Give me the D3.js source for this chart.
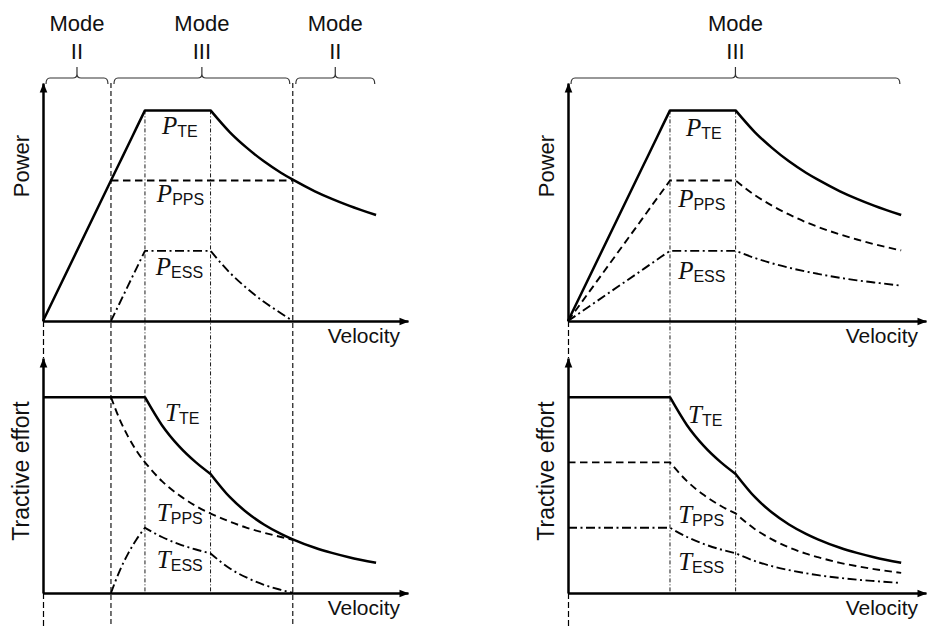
<!DOCTYPE html>
<html lang="en">
<head>
<meta charset="UTF-8">
<title>Power and tractive effort vs velocity</title>
<script src="https://d3js.org/d3.v7.min.js"></script>
<style>
  body { margin: 0; background: #fff; }
  svg { display: block; }
  .sans { font-family: "Liberation Sans", Arial, sans-serif; fill: #111; }
  .it { font-family: "Liberation Serif", "Times New Roman", serif; font-style: italic; }
</style>
</head>
<body>
<div id="chart"></div>
<script>
const W = 928, H = 626;

// velocity samples (same grid for every curve), corners where the curves kink
const velocity = [0, 2, 2.25, 2.5, 2.75, 3, 3.5, 4, 4.5, 4.93, 5.5, 6, 6.5, 7, 7.35, 8, 8.5, 9, 9.8];
const corners = [2, 3, 4.93];

// left figure: power (per unit of peak power)
const pTeLeft  = [0, .667, .75, .833, .917, 1, 1, 1, 1, 1, .896, .822, .758, .704, .671, .616, .58, .548, .503];
const pPpsLeft = [null, .667, .667, .667, .667, .667, .667, .667, .667, .667, .667, .667, .667, .667, .667, null, null, null, null];
const pEssLeft = [null, 0, .083, .167, .25, .333, .333, .333, .333, .333, .229, .155, .091, .037, 0, null, null, null, null];
// left figure: tractive effort (per unit of peak effort)
const tTeLeft  = [1, 1, 1, 1, 1, 1, .857, .75, .667, .608, .489, .411, .35, .302, .274, .231, .205, .183, .154];
const tPpsLeft = [null, 1, .889, .8, .727, .667, .571, .5, .444, .406, .364, .333, .308, .286, .272, null, null, null, null];
const tEssLeft = [null, 0, .111, .2, .273, .333, .286, .25, .222, .202, .125, .078, .042, .016, 0, null, null, null, null];

// right figure
const pTeRight  = [0, .667, .75, .833, .917, 1, 1, 1, 1, 1, .896, .822, .758, .704, .671, .616, .58, .548, .503];
const pPpsRight = [0, .444, .5, .556, .611, .667, .667, .667, .667, .667, .597, .548, .506, .469, .447, .411, .387, .365, .335];
const pEssRight = [0, .222, .25, .278, .306, .333, .333, .333, .333, .333, .299, .274, .253, .235, .224, .205, .193, .183, .168];
const tTeRight  = [1, 1, 1, 1, 1, 1, .857, .75, .667, .608, .489, .411, .35, .302, .274, .231, .205, .183, .154];
const tPpsRight = [.667, .667, .667, .667, .667, .667, .571, .5, .444, .406, .326, .274, .233, .201, .183, .154, .137, .122, .103];
const tEssRight = [.333, .333, .333, .333, .333, .333, .286, .25, .222, .203, .163, .137, .117, .101, .091, .077, .068, .061, .051];

// operating modes along the velocity axis
const modesLeft  = [["II", 0, 2], ["III", 2, 7.35], ["II", 7.35, 9.85]];
const modesRight = [["III", 0, 9.85]];
const modeBoundsLeft = [2, 7.35];

// curve labels: [letter, subscript, velocity, value]
const labelsPowerLeft  = [["P", "TE", 3.5, .89], ["P", "PPS", 3.35, .565], ["P", "ESS", 3.32, .22]];
const labelsEffortLeft = [["T", "TE", 3.59, .878], ["T", "PPS", 3.35, .367], ["T", "ESS", 3.35, .128]];
const labelsPowerRight  = [["P", "TE", 3.47, .88], ["P", "PPS", 3.24, .54], ["P", "ESS", 3.24, .2]];
const labelsEffortRight = [["T", "TE", 3.53, .87], ["T", "PPS", 3.24, .357], ["T", "ESS", 3.24, .117]];

const STYLE = {
  TE:  { w: 2.5, dash: null },
  PPS: { w: 1.9, dash: "7.5,4.5" },
  ESS: { w: 1.9, dash: "9,3.5,2,3.5" }
};

const svg = d3.select("#chart").append("svg")
  .attr("width", W).attr("height", H)
  .attr("viewBox", `0 0 ${W} ${H}`);

const defs = svg.append("defs");
defs.append("marker").attr("id", "arrowUp")
  .attr("markerUnits", "userSpaceOnUse")
  .attr("viewBox", "-5 -1 10 12").attr("markerWidth", 10).attr("markerHeight", 12)
  .attr("refX", 0).attr("refY", 0).attr("orient", 0)
  .append("path").attr("d", "M-3.8,9L0,-0.5L3.8,9Z").attr("fill", "#000");
defs.append("marker").attr("id", "arrowRight")
  .attr("markerUnits", "userSpaceOnUse")
  .attr("viewBox", "-11 -5 12 10").attr("markerWidth", 12).attr("markerHeight", 10)
  .attr("refX", 0).attr("refY", 0).attr("orient", 0)
  .append("path").attr("d", "M-9,-3.8L0.5,0L-9,3.8Z").attr("fill", "#000");

// split a series at the corner speeds, smooth each piece, join into one path
function curvePath(vals, x, y) {
  const pts = velocity.map((v, i) => [v, vals[i]]).filter(d => d[1] != null);
  const pieces = [];
  let cur = [];
  pts.forEach(p => {
    cur.push(p);
    if (corners.includes(p[0]) && cur.length > 1) { pieces.push(cur); cur = [p]; }
  });
  if (cur.length > 1) pieces.push(cur);
  const line = d3.line().x(d => x(d[0])).y(d => y(d[1])).curve(d3.curveMonotoneX);
  return pieces.map((p, i) => i ? "L" + line(p).slice(1) : line(p)).join("");
}

function brace(x0, x1, yb) {
  const cx = (x0 + x1) / 2, r = 4;
  return `M${x0},${yb + 6}Q${x0},${yb} ${x0 + r},${yb}L${cx - r},${yb}Q${cx},${yb} ${cx},${yb - r}L${cx},${yb - 11}` +
         `M${cx},${yb - r}Q${cx},${yb} ${cx + r},${yb}L${x1 - r},${yb}Q${x1},${yb} ${x1},${yb + 6}`;
}

function panel(cfg) {
  const g = svg.append("g");
  const x = d3.scaleLinear().domain([0, cfg.vMax]).range([cfg.x0, cfg.xEnd]);
  const yP = d3.scaleLinear().domain([0, 1.13]).range([321, 83]);
  const yT = d3.scaleLinear().domain([0, 1.2]).range([593, 358]);

  // y-axis continued as a dashed line through the figure
  g.append("g").selectAll("line")
    .data([[yP(0), yT(1.2)], [yT(0), H]])
    .join("line")
    .attr("x1", x(0) + 0.5).attr("x2", x(0) + 0.5)
    .attr("y1", d => d[0]).attr("y2", d => d[1])
    .attr("stroke", "#000").attr("stroke-width", 1.2).attr("stroke-dasharray", "6,3");

  // mode boundaries
  g.append("g").selectAll("line")
    .data(cfg.bounds)
    .join("line")
    .attr("x1", d => x(d)).attr("x2", d => x(d))
    .attr("y1", yP(1.13)).attr("y2", H)
    .attr("stroke", "#000").attr("stroke-width", 1.1).attr("stroke-dasharray", "5,3");

  // corner speeds
  g.append("g").selectAll("line")
    .data([3, 4.93])
    .join("line")
    .attr("x1", d => x(d)).attr("x2", d => x(d))
    .attr("y1", yP(1)).attr("y2", yT(0))
    .attr("stroke", "#000").attr("stroke-width", 0.9).attr("stroke-dasharray", "4,2,1,2");

  // axes
  [[yP, "Power", 166, 22], [yT, "Tractive effort", 471, 23]].forEach(([y, name, cy, fs]) => {
    const ax = g.append("g").attr("transform", `translate(0,${y(0)})`)
      .call(d3.axisBottom(x).tickValues([]).tickSizeOuter(0));
    ax.select(".domain").attr("stroke-width", 2.5).attr("marker-end", "url(#arrowRight)");
    const ay = g.append("g").attr("transform", `translate(${x(0)},0)`)
      .call(d3.axisLeft(y).tickValues([]).tickSizeOuter(0));
    ay.select(".domain").attr("stroke-width", 2.5).attr("marker-end", "url(#arrowUp)");

    g.append("text").attr("class", "sans")
      .attr("transform", `translate(${x(0) - 14},${cy}) rotate(-90)`)
      .attr("text-anchor", "middle").attr("font-size", fs)
      .text(name);
    g.append("text").attr("class", "sans")
      .attr("x", cfg.xEnd - 8).attr("y", y(0) + 22)
      .attr("text-anchor", "end").attr("font-size", 21)
      .text("Velocity");
  });

  // curves
  const series = [
    [yP, cfg.p[0], "TE"], [yP, cfg.p[1], "PPS"], [yP, cfg.p[2], "ESS"],
    [yT, cfg.t[0], "TE"], [yT, cfg.t[1], "PPS"], [yT, cfg.t[2], "ESS"]
  ];
  g.append("g").selectAll("path")
    .data(series)
    .join("path")
    .attr("d", d => curvePath(d[1], x, d[0]))
    .attr("fill", "none").attr("stroke", "#000")
    .attr("stroke-width", d => STYLE[d[2]].w)
    .attr("stroke-dasharray", d => STYLE[d[2]].dash)
    .attr("stroke-linejoin", "round");

  // curve labels
  [[yP, cfg.lp], [yT, cfg.lt]].forEach(([y, labels]) => {
    const t = g.append("g").selectAll("text")
      .data(labels)
      .join("text").attr("class", "sans")
      .attr("x", d => x(d[2])).attr("y", d => y(d[3]));
    t.append("tspan").attr("class", "it").attr("font-size", 25).text(d => d[0]);
    t.append("tspan").attr("font-size", 16).attr("dy", 3).text(d => d[1]);
  });

  // mode braces
  const m = g.append("g").selectAll("g").data(cfg.modes).join("g");
  m.append("path")
    .attr("d", d => brace(x(d[1]) + 3, x(d[2]) - 3, 78))
    .attr("fill", "none").attr("stroke", "#333").attr("stroke-width", 1.2);
  m.append("text").attr("class", "sans")
    .attr("x", d => (x(d[1]) + x(d[2])) / 2).attr("y", 31)
    .attr("text-anchor", "middle").attr("font-size", 22).text("Mode");
  m.append("text").attr("class", "sans")
    .attr("x", d => (x(d[1]) + x(d[2])) / 2).attr("y", 59)
    .attr("text-anchor", "middle").attr("font-size", 22).text(d => d[0]);
}

panel({
  x0: 43, xEnd: 408, vMax: 10.74,
  p: [pTeLeft, pPpsLeft, pEssLeft], t: [tTeLeft, tPpsLeft, tEssLeft],
  lp: labelsPowerLeft, lt: labelsEffortLeft,
  modes: modesLeft, bounds: modeBoundsLeft
});
panel({
  x0: 568, xEnd: 926, vMax: 10.53,
  p: [pTeRight, pPpsRight, pEssRight], t: [tTeRight, tPpsRight, tEssRight],
  lp: labelsPowerRight, lt: labelsEffortRight,
  modes: modesRight, bounds: []
});
</script>
</body>
</html>
